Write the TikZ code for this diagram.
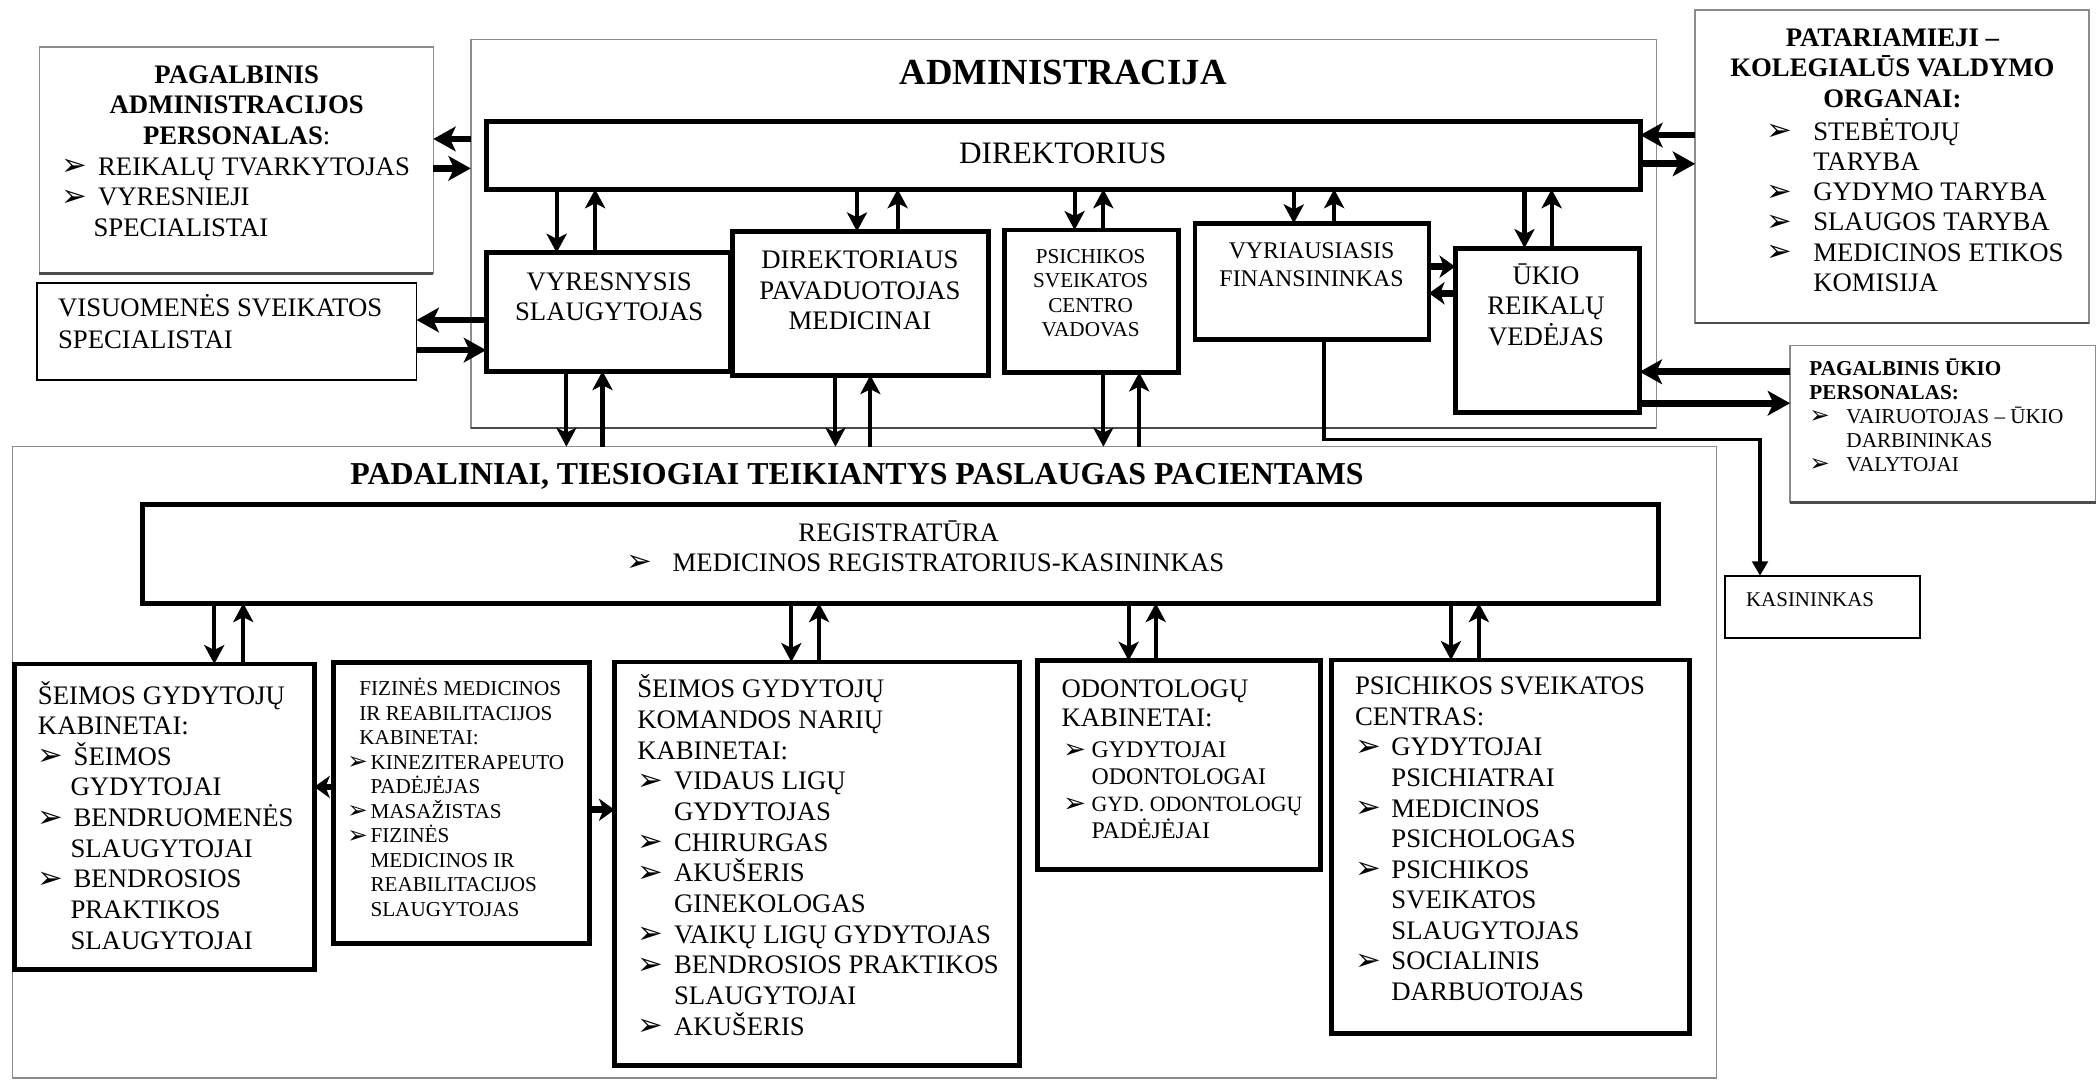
\documentclass[tikz,border=0pt]{standalone}
\usepackage{fontspec}
\setmainfont{Liberation Serif}
\newfontfamily\dejavu{DejaVu Sans}
\usetikzlibrary{fit,arrows.meta}
\newcommand\fs[2]{\fontsize{#1}{#2}\selectfont}
\newcommand\st{\rule{0pt}{1em}}
\newcommand\bul{\raisebox{-0.02em}{\scalebox{1.15}{\dejavu\symbol{"27A2}}}}
\newcommand\bi[1]{\makebox[#1][l]{\bul}}
\newcommand\ind[1]{\hspace*{#1}}
\begin{document}
\begin{tikzpicture}[x=0.6pt,y=-0.6pt,
  thickbox/.style={draw=black, line width=2.2pt, inner sep=0pt, outer sep=0pt},
  thinbox/.style={draw=black, line width=0.8pt, inner sep=0pt, outer sep=0pt},
  greybox/.style={draw=black!45, line width=0.7pt, inner sep=0pt, outer sep=0pt},
  darkedge/.style={draw=black!70, line width=1.3pt},
  txt/.style={inner sep=0pt, outer sep=0pt},
  tl/.style={txt, anchor=north west, align=left},
  tc/.style={txt, anchor=north, align=center},
  bigarrow/.style={line width=3pt, -{Stealth[length=10pt,width=11pt,inset=2.5pt]}},
  sarrow/.style={line width=3pt, -{Stealth[length=7pt,width=10pt,inset=2pt]}},
  varrow/.style={line width=1.8pt, -{Stealth[length=8.5pt,width=9pt,inset=2.2pt]}},
  karrow/.style={line width=1.5pt, -{Triangle[length=6.5pt,width=7pt]}},
]
\useasboundingbox (0,0) rectangle (1568,808.3);
\fill[white] (0,0) rectangle (1568,808.3);

% ---------- outer frames ----------
\node[greybox, fit={(29.5,35) (324,204.5)}] (pagadm) {};
\node[thinbox, fit={(27.5,211.5) (311.5,284)}] (visuom) {};
\node[greybox, fit={(352,29.5) (1238.5,320)}] (admin) {};
\node[greybox, fit={(1267.5,7.5) (1562,241.5)}] (patar) {};
\node[greybox, fit={(1338.5,258.5) (1567,375.5)}] (pagukio) {};
\node[thinbox, fit={(1290,430.5) (1435.5,477)}] (kasin) {};
\node[greybox, fit={(9.5,334) (1283.5,806)}] (padal) {};
\draw[darkedge] (pagadm.south west) -- (pagadm.south east);
\draw[darkedge] (admin.south west) -- (admin.south east);
\draw[darkedge] (patar.south west) -- (patar.south east);
\draw[darkedge] (pagukio.south west) -- (pagukio.south east);

% ---------- administration boxes ----------
\node[thickbox, fit={(363.5,91) (1226.5,141.5)}] (dir) {};
\node[thickbox, fit={(363.5,189) (546,277.5)}] (vyr) {};
\node[thickbox, fit={(547.5,173) (739,280.5)}] (dirpav) {};
\node[thickbox, fit={(751,172) (881,278.5)}] (psivad) {};
\node[thickbox, fit={(893.5,167) (1068.5,254)}] (vyrfin) {};
\node[thickbox, fit={(1088,185.5) (1226,308.5)}] (ukio) {};

% ---------- units ----------
\node[thickbox, fit={(106.5,377.5) (1240,451)}] (reg) {};
\node[thickbox, fit={(11,496.5) (235,725)}] (seimos) {};
\node[thickbox, fit={(249.5,495.5) (440.5,705.5)}] (fiz) {};
\node[thickbox, fit={(459.5,495) (762.5,796.5)}] (koman) {};
\node[thickbox, fit={(776,494) (987.5,650)}] (odont) {};
\node[thickbox, fit={(995.5,493.5) (1263,772.5)}] (psicen) {};

% ---------- texts ----------
\node[tc, font=\fs{12}{13.74}\bfseries] (pagadmH) at (177,42.3) {\st PAGALBINIS\\ADMINISTRACIJOS\\PERSONALAS\textmd{:}};
\node[tl, font=\fs{12}{13.74}] (pagadmI) at (46,110.9) {\st\bi{16.4pt}REIKALŲ TVARKYTOJAS\\\bi{16.4pt}VYRESNIEJI\\\ind{14.4pt}SPECIALISTAI};
\node[tl, font=\fs{12}{14.2}] (visuomT) at (43.4,216.8) {\st VISUOMENĖS SVEIKATOS\\SPECIALISTAI};
\node[txt, anchor=base, font=\fs{16.5}{19}\bfseries] (adminT) at (795,63.5) {ADMINISTRACIJA};
\node[txt, anchor=base, font=\fs{14}{16}] (dirT) at (794.7,122.1) {DIREKTORIUS};
\node[tc, font=\fs{12}{13.74}] (vyrT) at (455.5,196.9) {\st VYRESNYSIS\\SLAUGYTOJAS};
\node[tc, font=\fs{12}{13.8}] (dirpavT) at (643,180.6) {\st DIREKTORIAUS\\PAVADUOTOJAS\\MEDICINAI};
\node[tc, font=\fs{9.5}{11}] (psivadT) at (815.5,181.1) {\st PSICHIKOS\\SVEIKATOS\\CENTRO\\VADOVAS};
\node[tc, font=\fs{10.7}{12.7}] (vyrfinT) at (980.7,175.3) {\st VYRIAUSIASIS\\FINANSININKAS};
\node[tc, font=\fs{12}{13.5}] (ukioT) at (1156,193) {\st ŪKIO\\REIKALŲ\\VEDĖJAS};
\node[tc, font=\fs{12}{13.6}\bfseries] (patarH) at (1415,14.9) {\st PATARIAMIEJI –\\KOLEGIALŪS VALDYMO\\ORGANAI:};
\node[tl, font=\fs{12}{13.6}] (patarI) at (1320.5,84.7) {\st\bi{21.2pt}STEBĖTOJŲ\\\ind{21.2pt}TARYBA\\\bi{21.2pt}GYDYMO TARYBA\\\bi{21.2pt}SLAUGOS TARYBA\\\bi{21.2pt}MEDICINOS ETIKOS\\\ind{21.2pt}KOMISIJA};
\node[tl, font=\fs{9.5}{10.8}] (pagukioT) at (1353,264.6) {\st\textbf{PAGALBINIS ŪKIO}\\\textbf{PERSONALAS:}\\\bi{16.6pt}VAIRUOTOJAS – ŪKIO\\\ind{16.6pt}DARBININKAS\\\bi{16.6pt}VALYTOJAI};
\node[txt, anchor=base west, font=\fs{9.4}{11}] (kasinT) at (1305.6,453.6) {KASININKAS};
\node[txt, anchor=base west, font=\fs{14.3}{16}\bfseries] (padalT) at (262,362.5) {PADALINIAI, TIESIOGIAI TEIKIANTYS PASLAUGAS PACIENTAMS};
\node[txt, anchor=base, font=\fs{12}{14}] (regT1) at (672,404.7) {REGISTRATŪRA};
\node[txt, anchor=base west, font=\fs{12}{14}] (regT2) at (468.3,427) {\bi{20.8pt}MEDICINOS REGISTRATORIUS-KASININKAS};
\node[tl, font=\fs{12}{13.74}] (seimosT) at (28.4,506.4) {\st ŠEIMOS GYDYTOJŲ\\KABINETAI:\\\bi{16pt}ŠEIMOS\\\ind{14.6pt}GYDYTOJAI\\\bi{16pt}BENDRUOMENĖS\\\ind{14.6pt}SLAUGYTOJAI\\\bi{16pt}BENDROSIOS\\\ind{14.6pt}PRAKTIKOS\\\ind{14.6pt}SLAUGYTOJAI};
\node[tl, font=\fs{9.5}{11}] (fizT) at (259.7,504.4) {\st\ind{5.4pt}FIZINĖS MEDICINOS\\\ind{5.4pt}IR REABILITACIJOS\\\ind{5.4pt}KABINETAI:\\\bi{10.4pt}KINEZITERAPEUTO\\\ind{10.4pt}PADĖJĖJAS\\\bi{10.4pt}MASAŽISTAS\\\bi{10.4pt}FIZINĖS\\\ind{10.4pt}MEDICINOS IR\\\ind{10.4pt}REABILITACIJOS\\\ind{10.4pt}SLAUGYTOJAS};
\node[tl, font=\fs{12}{13.76}] (komanT) at (476.5,501.7) {\st ŠEIMOS GYDYTOJŲ\\KOMANDOS NARIŲ\\KABINETAI:\\\bi{16.5pt}VIDAUS LIGŲ\\\ind{16.5pt}GYDYTOJAS\\\bi{16.5pt}CHIRURGAS\\\bi{16.5pt}AKUŠERIS\\\ind{16.5pt}GINEKOLOGAS\\\bi{16.5pt}VAIKŲ LIGŲ GYDYTOJAS\\\bi{16.5pt}BENDROSIOS PRAKTIKOS\\\ind{16.5pt}SLAUGYTOJAI\\\bi{16.5pt}AKUŠERIS};
\node[tl, font=\fs{12}{13}] (odontH) at (793.8,501.7) {\st ODONTOLOGŲ\\KABINETAI:};
\node[tl, font=\fs{10.7}{12.1}] (odontI) at (794.9,548.9) {\st\bi{12.8pt}GYDYTOJAI\\\ind{12.8pt}ODONTOLOGAI\\\bi{12.8pt}{\fs{9.8}{12.1}GYD. ODONTOLOGŲ}\\\ind{12.8pt}PADĖJĖJAI};
\node[tl, font=\fs{12}{13.7}] (psicenT) at (1013.2,499.6) {\st PSICHIKOS SVEIKATOS\\CENTRAS:\\\bi{16.3pt}GYDYTOJAI\\\ind{16.3pt}PSICHIATRAI\\\bi{16.3pt}MEDICINOS\\\ind{16.3pt}PSICHOLOGAS\\\bi{16.3pt}PSICHIKOS\\\ind{16.3pt}SVEIKATOS\\\ind{16.3pt}SLAUGYTOJAS\\\bi{16.3pt}SOCIALINIS\\\ind{16.3pt}DARBUOTOJAS};

% ---------- thick horizontal connectors ----------
\draw[bigarrow] (admin.west |- 0,103.9) -- (pagadm.east |- 0,103.9);
\draw[bigarrow] (pagadm.east |- 0,125.9) -- (admin.west |- 0,125.9);
\draw[bigarrow] (vyr.west |- 0,239.3) -- (visuom.east |- 0,239.3);
\draw[bigarrow] (visuom.east |- 0,261.8) -- (vyr.west |- 0,261.8);
\draw[bigarrow] (patar.west |- 0,101) -- (dir.east |- 0,101);
\draw[bigarrow] (dir.east |- 0,122.5) -- (patar.west |- 0,122.5);
\draw[bigarrow] (pagukio.west |- 0,278) -- (ukio.east |- 0,278);
\draw[bigarrow] (ukio.east |- 0,301.5) -- (pagukio.west |- 0,301.5);
\draw[sarrow] (vyrfin.east |- 0,199.4) -- (ukio.west |- 0,199.4);
\draw[sarrow] (ukio.west |- 0,219.3) -- (vyrfin.east |- 0,219.3);
\draw[sarrow] (fiz.west |- 0,588.4) -- (seimos.east |- 0,588.4);
\draw[sarrow] (fiz.east |- 0,605.5) -- (koman.west |- 0,605.5);

% ---------- vertical connectors ----------
\draw[varrow] (dir.south -| 416.2,0) -- (vyr.north -| 416.2,0);
\draw[varrow] (vyr.north -| 445,0) -- (dir.south -| 445,0);
\draw[varrow] (dir.south -| 640.8,0) -- (dirpav.north -| 640.8,0);
\draw[varrow] (dirpav.north -| 671.2,0) -- (dir.south -| 671.2,0);
\draw[varrow] (dir.south -| 803.5,0) -- (psivad.north -| 803.5,0);
\draw[varrow] (psivad.north -| 825,0) -- (dir.south -| 825,0);
\draw[varrow] (dir.south -| 967.4,0) -- (vyrfin.north -| 967.4,0);
\draw[varrow] (vyrfin.north -| 997.6,0) -- (dir.south -| 997.6,0);
\draw[varrow] (dir.south -| 1139.9,0) -- (ukio.north -| 1139.9,0);
\draw[varrow] (ukio.north -| 1160.2,0) -- (dir.south -| 1160.2,0);

\draw[varrow] (vyr.south -| 423.5,0) -- (padal.north -| 423.5,0);
\draw[varrow] (padal.north -| 450.5,0) -- (vyr.south -| 450.5,0);
\draw[varrow] (dirpav.south -| 624.7,0) -- (padal.north -| 624.7,0);
\draw[varrow] (padal.north -| 650.8,0) -- (dirpav.south -| 650.8,0);
\draw[varrow] (psivad.south -| 825,0) -- (padal.north -| 825,0);
\draw[varrow] (padal.north -| 851.8,0) -- (psivad.south -| 851.8,0);

\draw[varrow] (reg.south -| 160.2,0) -- (seimos.north -| 160.2,0);
\draw[varrow] (seimos.north -| 181.9,0) -- (reg.south -| 181.9,0);
\draw[varrow] (reg.south -| 591.7,0) -- (koman.north -| 591.7,0);
\draw[varrow] (koman.north -| 612.4,0) -- (reg.south -| 612.4,0);
\draw[varrow] (reg.south -| 843.9,0) -- (odont.north -| 843.9,0);
\draw[varrow] (odont.north -| 864.2,0) -- (reg.south -| 864.2,0);
\draw[varrow] (reg.south -| 1084.9,0) -- (psicen.north -| 1084.9,0);
\draw[varrow] (psicen.north -| 1105.8,0) -- (reg.south -| 1105.8,0);

% ---------- cashier connector ----------
\coordinate (kc) at (1316,328.7);
\draw[karrow] (vyrfin.south -| 990,0) |- (kc) -- (kasin.north -| kc);
\end{tikzpicture}
\end{document}
